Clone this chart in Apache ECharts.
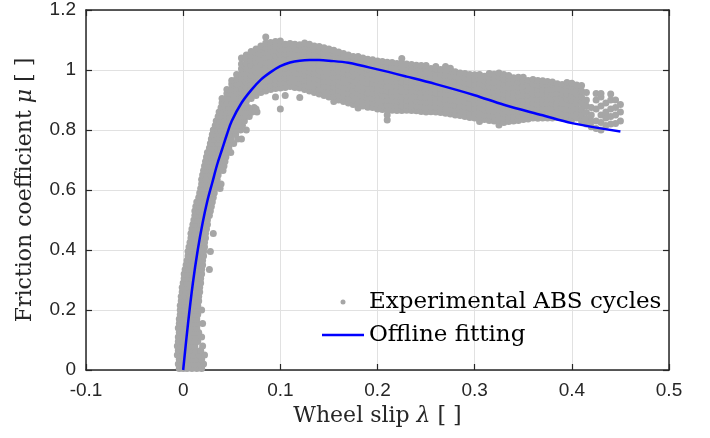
<!DOCTYPE html>
<html>
<head>
<meta charset="utf-8">
<script src="https://cdn.jsdelivr.net/npm/echarts@6/dist/echarts.min.js"></script>
<style>html,body{margin:0;padding:0;background:#fff}#c{width:710px;height:438px}</style>
</head>
<body>
<div id="c"></div>
<script>
// Fitted curve (Offline fitting)
const fitX = [0, 0.005, 0.01, 0.015, 0.02, 0.025, 0.03, 0.035, 0.04, 0.045, 0.05, 0.06, 0.07, 0.08, 0.09, 0.10, 0.11, 0.12, 0.13, 0.14, 0.15, 0.17, 0.20, 0.23, 0.26, 0.30, 0.33, 0.37, 0.40, 0.45];
const fitY = [0, 0.155, 0.29, 0.40, 0.49, 0.565, 0.625, 0.685, 0.735, 0.785, 0.83, 0.89, 0.933, 0.968, 0.993, 1.013, 1.025, 1.031, 1.033, 1.033, 1.031, 1.024, 1.002, 0.978, 0.953, 0.916, 0.884, 0.849, 0.823, 0.795];

// Experimental ABS cycles: rising branch, read row by row (mu level -> slip values)
const riseY = [0.005,0.02,0.035,0.05,0.065,0.08,0.095,0.11,0.125,0.14,0.155,0.17,0.185,0.2,0.215,0.23,0.245,0.26,0.275,0.29,0.305,0.32,0.335,0.35,0.365,0.38,0.395,0.41,0.425,0.44,0.455,0.47,0.485,0.5,0.515,0.53,0.545,0.56,0.575,0.59,0.605,0.62,0.635,0.65,0.665,0.68,0.695,0.71,0.725,0.74,0.755,0.77,0.785,0.8,0.815,0.83,0.845,0.86,0.875];
const riseX = [
[-0.004,0.000,0.004,0.009,0.014,0.019],
[-0.005,-0.001,0.003,0.008,0.012,0.017,0.021],
[-0.004,0.001,0.005,0.010,0.015,0.019],
[-0.006,-0.002,0.002,0.007,0.011,0.016,0.022],
[-0.005,-0.001,0.004,0.008,0.013,0.018],
[-0.006,-0.002,0.003,0.007,0.012,0.020],
[-0.005,0.000,0.005,0.010,0.015],
[-0.005,-0.001,0.003,0.008,0.013,0.019],
[-0.004,0.001,0.006,0.011,0.016],
[-0.005,0.000,0.004,0.009,0.014],
[-0.004,0.001,0.005,0.010,0.015,0.020],
[-0.004,0.000,0.005,0.010,0.014],
[-0.003,0.002,0.006,0.011,0.015],
[-0.003,0.001,0.005,0.010,0.014,0.019],
[-0.003,0.002,0.007,0.011,0.015],
[-0.002,0.002,0.006,0.011,0.016],
[-0.002,0.003,0.007,0.012,0.016],
[-0.001,0.003,0.008,0.012,0.017],
[-0.001,0.004,0.008,0.013,0.017],
[0.000,0.004,0.009,0.013,0.018],
[0.001,0.005,0.009,0.014,0.018],
[0.001,0.006,0.010,0.014,0.019],
[0.002,0.006,0.011,0.015,0.019,0.027],
[0.003,0.007,0.011,0.015,0.020],
[0.004,0.008,0.012,0.016,0.020],
[0.005,0.009,0.013,0.017,0.021],
[0.005,0.009,0.013,0.017,0.021,0.028],
[0.006,0.010,0.014,0.018,0.022],
[0.007,0.011,0.015,0.019,0.022],
[0.008,0.012,0.016,0.019,0.023],
[0.008,0.012,0.016,0.020,0.023,0.031],
[0.009,0.013,0.017,0.021,0.024],
[0.010,0.014,0.018,0.021,0.025],
[0.011,0.015,0.018,0.022,0.025],
[0.012,0.015,0.019,0.023,0.027],
[0.012,0.016,0.020,0.024,0.028],
[0.013,0.017,0.021,0.025,0.029],
[0.014,0.018,0.022,0.026,0.030],
[0.016,0.020,0.024,0.028,0.031],
[0.017,0.021,0.025,0.029,0.032],
[0.018,0.022,0.026,0.030,0.033,0.038],
[0.019,0.023,0.027,0.031,0.035,0.039],
[0.019,0.023,0.027,0.031,0.035],
[0.020,0.024,0.028,0.032,0.036],
[0.021,0.025,0.029,0.033,0.037,0.041],
[0.022,0.026,0.030,0.034,0.038,0.042],
[0.023,0.027,0.031,0.035,0.039,0.043],
[0.024,0.028,0.032,0.036,0.040,0.044],
[0.025,0.029,0.033,0.037,0.041,0.045,0.049],
[0.027,0.031,0.035,0.039,0.043,0.047],
[0.028,0.032,0.036,0.040,0.044,0.048,0.052],
[0.029,0.033,0.037,0.041,0.045,0.049,0.056,0.060],
[0.030,0.034,0.038,0.042,0.046,0.050,0.054],
[0.031,0.035,0.039,0.043,0.047,0.051,0.055,0.059,0.065],
[0.033,0.037,0.041,0.045,0.049,0.053,0.057,0.061],
[0.034,0.038,0.042,0.046,0.050,0.054,0.058,0.063],
[0.036,0.040,0.044,0.048,0.052,0.056,0.060,0.064,0.068],
[0.037,0.041,0.045,0.049,0.053,0.057,0.061,0.065,0.071,0.076],
[0.039,0.043,0.047,0.051,0.055,0.059,0.063,0.067,0.073]
];

// Experimental ABS cycles: upper band, read column by column (slip -> mu values)
const bandX = [0.040,0.045,0.050,0.055,0.060,0.065,0.070,0.075,0.080,0.085,0.090,0.095,0.100,0.105,0.110,0.115,0.120,0.125,0.130,0.135,0.140,0.145,0.150,0.155,0.160,0.165,0.170,0.175,0.180,0.185,0.190,0.195,0.200,0.205,0.210,0.215,0.220,0.225,0.230,0.235,0.240,0.245,0.250,0.255,0.260,0.265,0.270,0.275,0.280,0.285,0.290,0.295,0.300,0.305,0.310,0.315,0.320,0.325,0.330,0.335,0.340,0.345,0.350,0.355,0.360,0.365,0.370,0.375,0.380,0.385,0.390,0.395,0.400,0.405,0.410,0.415,0.420,0.425,0.430,0.435,0.440,0.445,0.450];
const bandY = [
[0.89,0.905],
[0.89,0.906,0.922,0.935],
[0.89,0.905,0.921,0.937,0.953,0.965],
[0.89,0.906,0.922,0.938,0.954,0.97,0.985],
[0.892,0.908,0.924,0.94,0.956,0.972,0.988,1.004,1.02,1.04],
[0.895,0.91,0.926,0.942,0.958,0.974,0.99,1.006,1.022,1.038,1.05],
[0.86,0.905,0.92,0.936,0.952,0.968,0.984,1.0,1.016,1.032,1.048,1.062],
[0.87,0.915,0.93,0.946,0.962,0.978,0.994,1.01,1.026,1.042,1.058,1.07],
[0.925,0.94,0.956,0.972,0.988,1.004,1.02,1.036,1.052,1.068,1.08],
[0.93,0.946,0.962,0.978,0.994,1.01,1.026,1.042,1.058,1.074,1.09,1.11],
[0.935,0.95,0.966,0.982,0.998,1.014,1.03,1.046,1.062,1.078,1.092],
[0.91,0.938,0.954,0.97,0.986,1.002,1.018,1.034,1.05,1.066,1.082,1.095],
[0.87,0.94,0.956,0.972,0.988,1.004,1.02,1.036,1.052,1.068,1.084,1.097],
[0.915,0.942,0.958,0.974,0.99,1.006,1.022,1.038,1.054,1.07,1.086],
[0.945,0.96,0.976,0.992,1.008,1.024,1.04,1.056,1.072,1.088],
[0.942,0.958,0.974,0.99,1.006,1.022,1.038,1.054,1.07,1.086],
[0.908,0.94,0.956,0.972,0.988,1.004,1.02,1.036,1.052,1.068,1.084],
[0.935,0.951,0.967,0.983,0.999,1.015,1.031,1.047,1.063,1.079,1.09],
[0.93,0.946,0.962,0.978,0.994,1.01,1.026,1.042,1.058,1.074,1.086],
[0.925,0.941,0.957,0.973,0.989,1.005,1.021,1.037,1.053,1.069,1.08],
[0.92,0.936,0.952,0.968,0.984,1.0,1.016,1.032,1.048,1.064,1.078],
[0.915,0.931,0.947,0.963,0.979,0.995,1.011,1.027,1.043,1.059,1.074],
[0.91,0.926,0.942,0.958,0.974,0.99,1.006,1.022,1.038,1.054,1.07],
[0.895,0.912,0.928,0.944,0.96,0.976,0.992,1.008,1.024,1.04,1.056,1.066],
[0.9,0.916,0.932,0.948,0.964,0.98,0.996,1.012,1.028,1.044,1.06],
[0.895,0.911,0.927,0.943,0.959,0.975,0.991,1.007,1.023,1.039,1.055],
[0.89,0.906,0.922,0.938,0.954,0.97,0.986,1.002,1.018,1.034,1.05],
[0.885,0.901,0.917,0.933,0.949,0.965,0.981,0.997,1.013,1.029,1.045],
[0.873,0.89,0.906,0.922,0.938,0.954,0.97,0.986,1.002,1.018,1.034,1.045],
[0.88,0.896,0.912,0.928,0.944,0.96,0.976,0.992,1.008,1.024,1.04],
[0.876,0.892,0.908,0.924,0.94,0.956,0.972,0.988,1.004,1.02,1.036],
[0.875,0.891,0.907,0.923,0.939,0.955,0.971,0.987,1.003,1.019,1.034],
[0.87,0.886,0.902,0.918,0.934,0.95,0.966,0.982,0.998,1.014,1.03],
[0.868,0.884,0.9,0.916,0.932,0.948,0.964,0.98,0.996,1.012,1.028],
[0.833,0.85,0.867,0.883,0.899,0.915,0.931,0.947,0.963,0.979,0.995,1.011,1.026],
[0.866,0.882,0.898,0.914,0.93,0.946,0.962,0.978,0.994,1.01,1.025],
[0.865,0.881,0.897,0.913,0.929,0.945,0.961,0.977,0.993,1.009,1.022],
[0.865,0.881,0.897,0.913,0.929,0.945,0.961,0.977,0.993,1.009,1.022,1.038],
[0.866,0.882,0.898,0.914,0.93,0.946,0.962,0.978,0.994,1.01,1.02],
[0.865,0.881,0.897,0.913,0.929,0.945,0.961,0.977,0.993,1.009,1.018],
[0.864,0.88,0.896,0.912,0.928,0.944,0.96,0.976,0.992,1.008,1.016],
[0.862,0.878,0.894,0.91,0.926,0.942,0.958,0.974,0.99,1.006,1.015],
[0.86,0.876,0.892,0.908,0.924,0.94,0.956,0.972,0.988,1.004,1.015],
[0.861,0.877,0.893,0.909,0.925,0.941,0.957,0.973,0.989,1.005],
[0.86,0.876,0.892,0.908,0.924,0.94,0.956,0.972,0.988,1.004,1.012],
[0.858,0.874,0.89,0.906,0.922,0.938,0.954,0.97,0.986,1.002],
[0.856,0.872,0.888,0.904,0.92,0.936,0.952,0.968,0.984,1.0,1.012],
[0.853,0.869,0.885,0.901,0.917,0.933,0.949,0.965,0.981,0.997,1.006],
[0.85,0.866,0.882,0.898,0.914,0.93,0.946,0.962,0.978,0.994],
[0.848,0.864,0.88,0.896,0.912,0.928,0.944,0.96,0.976,0.99],
[0.845,0.861,0.877,0.893,0.909,0.925,0.941,0.957,0.973,0.988],
[0.842,0.858,0.874,0.89,0.906,0.922,0.938,0.954,0.97,0.985],
[0.84,0.856,0.872,0.888,0.904,0.92,0.936,0.952,0.968,0.984],
[0.828,0.844,0.86,0.876,0.892,0.908,0.924,0.94,0.956,0.972,0.985],
[0.835,0.851,0.867,0.883,0.899,0.915,0.931,0.947,0.963,0.979],
[0.832,0.848,0.864,0.88,0.896,0.912,0.928,0.944,0.96,0.976,0.988],
[0.83,0.846,0.862,0.878,0.894,0.91,0.926,0.942,0.958,0.974,0.986],
[0.817,0.833,0.849,0.865,0.881,0.897,0.913,0.929,0.945,0.961,0.977,0.99],
[0.825,0.841,0.857,0.873,0.889,0.905,0.921,0.937,0.953,0.969,0.985],
[0.828,0.844,0.86,0.876,0.892,0.908,0.924,0.94,0.956,0.972,0.982],
[0.83,0.846,0.862,0.878,0.894,0.91,0.926,0.942,0.958,0.974],
[0.832,0.848,0.864,0.88,0.896,0.912,0.928,0.944,0.96,0.976],
[0.835,0.851,0.867,0.883,0.899,0.915,0.931,0.947,0.963,0.976],
[0.837,0.853,0.869,0.885,0.901,0.917,0.933,0.949,0.965],
[0.84,0.856,0.872,0.888,0.904,0.92,0.936,0.952,0.968],
[0.839,0.855,0.871,0.887,0.903,0.919,0.935,0.951,0.965],
[0.84,0.856,0.872,0.888,0.904,0.92,0.936,0.952,0.964],
[0.84,0.856,0.872,0.888,0.904,0.92,0.936,0.952,0.962],
[0.84,0.856,0.872,0.888,0.904,0.92,0.936,0.952,0.96],
[0.842,0.858,0.874,0.89,0.906,0.922,0.938,0.954],
[0.84,0.856,0.872,0.888,0.904,0.92,0.936,0.952],
[0.838,0.854,0.87,0.886,0.902,0.918,0.934,0.95,0.958],
[0.835,0.851,0.867,0.883,0.899,0.915,0.931,0.947,0.956],
[0.84,0.856,0.872,0.888,0.904,0.92,0.936,0.95],
[0.83,0.85,0.87,0.89,0.91,0.93,0.948],
[0.82,0.838,0.858,0.88,0.9,0.925],
[0.811,0.83,0.85,0.875],
[0.805,0.83,0.87,0.9,0.922],
[0.80,0.825,0.85,0.88,0.91,0.922],
[0.815,0.84,0.86,0.89],
[0.82,0.845,0.87,0.9,0.92],
[0.822,0.85,0.875,0.9],
[0.83,0.86,0.885]
];

const xTickMin = -0.1, xTickMax = 0.5, xTickStep = 0.1;
const yTickMin = 0, yTickMax = 1.2, yTickStep = 0.2;

const scatterData = [];
riseY.forEach((y, i) => riseX[i].forEach(x => scatterData.push([x, y])));
bandX.forEach((x, i) => bandY[i].forEach(y => scatterData.push([x, y])));
const fitData = fitX.map((x, i) => [x, fitY[i]]);

const chart = echarts.init(document.getElementById('c'), null, {renderer: 'canvas'});
const axisColor = '#262626';
const tickFont = {fontFamily: 'Liberation Sans', fontSize: 19, color: '#262626'};
const titleFont = 'DejaVu Serif';
chart.setOption({
  animation: false,
  backgroundColor: '#ffffff',
  grid: {left: 86, top: 10, width: 583, height: 360, containLabel: false},
  legend: {
    orient: 'vertical', left: 322, top: 290, padding: 0,
    itemWidth: 42, itemHeight: 5, itemGap: 9,
    symbolKeepAspect: true,
    textStyle: {fontFamily: titleFont, fontSize: 23, color: '#000', lineHeight: 24},
    data: [
      {name: 'Experimental ABS cycles', icon: 'circle'},
      {name: 'Offline fitting', icon: 'path://M0,0H168V10H0Z'}
    ]
  },
  xAxis: [{
    type: 'value', min: xTickMin, max: xTickMax, interval: xTickStep,
    position: 'bottom',
    name: 'Wheel slip {i|λ} [ ]', nameLocation: 'middle', nameGap: 29,
    nameTextStyle: {fontFamily: titleFont, fontSize: 22, color: '#262626',
      rich: {i: {fontFamily: titleFont, fontStyle: 'italic', fontSize: 22, color: '#262626'}}},
    axisLine: {show: true, onZero: false, lineStyle: {color: axisColor, width: 1.5}},
    axisTick: {show: true, inside: true, length: 6, lineStyle: {color: axisColor, width: 1.2}},
    axisLabel: Object.assign({margin: 11}, tickFont),
    splitLine: {show: true, lineStyle: {color: '#E1E1E1', width: 1}}
  }, {
    type: 'value', min: xTickMin, max: xTickMax, interval: xTickStep,
    position: 'top',
    axisLine: {show: true, onZero: false, lineStyle: {color: axisColor, width: 1.5}},
    axisTick: {show: true, inside: true, length: 6, lineStyle: {color: axisColor, width: 1.2}},
    axisLabel: {show: false}, splitLine: {show: false}
  }],
  yAxis: [{
    type: 'value', min: yTickMin, max: yTickMax, interval: yTickStep,
    position: 'left',
    name: 'Friction coefficient {i|μ} [ ]', nameLocation: 'middle', nameGap: 50, nameRotate: 90,
    nameTextStyle: {fontFamily: titleFont, fontSize: 22, color: '#262626',
      rich: {i: {fontFamily: titleFont, fontStyle: 'italic', fontSize: 22, color: '#262626'}}},
    axisLine: {show: true, onZero: false, lineStyle: {color: axisColor, width: 1.5}},
    axisTick: {show: true, inside: true, length: 6, lineStyle: {color: axisColor, width: 1.2}},
    axisLabel: Object.assign({margin: 10}, tickFont),
    splitLine: {show: true, lineStyle: {color: '#E1E1E1', width: 1}}
  }, {
    type: 'value', min: yTickMin, max: yTickMax, interval: yTickStep,
    position: 'right',
    axisLine: {show: true, onZero: false, lineStyle: {color: axisColor, width: 1.5}},
    axisTick: {show: true, inside: true, length: 6, lineStyle: {color: axisColor, width: 1.2}},
    axisLabel: {show: false}, splitLine: {show: false}
  }],
  series: [{
    name: 'Experimental ABS cycles', type: 'scatter',
    xAxisIndex: 0, yAxisIndex: 0,
    symbol: 'circle', symbolSize: 7,
    itemStyle: {color: '#A6A6A6', opacity: 1},
    data: scatterData, z: 2
  }, {
    name: 'Offline fitting', type: 'line',
    xAxisIndex: 0, yAxisIndex: 0,
    smooth: 0.35, symbol: 'none', showSymbol: false,
    lineStyle: {color: '#0000FF', width: 2.5},
    itemStyle: {color: '#0000FF'},
    data: fitData, z: 3
  }]
});
</script>
</body>
</html>
